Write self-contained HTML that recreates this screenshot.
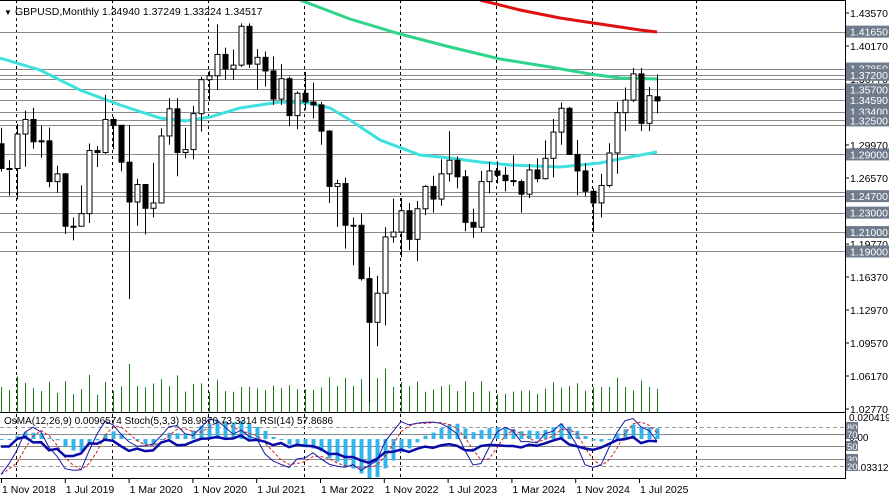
<!DOCTYPE html>
<html><head><meta charset="utf-8"><style>
html,body{margin:0;padding:0;background:#fff;}
svg{display:block;font-family:"Liberation Sans","DejaVu Sans",sans-serif;}
</style></head><body>
<svg id="s" width="889" height="499" xmlns="http://www.w3.org/2000/svg"></svg>
<script>
const D=[
[1.3010,1.3175,1.2723,1.2755],[1.2755,1.2840,1.2477,1.2755],
[1.2755,1.3216,1.2438,1.3110],[1.3110,1.3350,1.2773,1.3260],[1.3260,1.3381,1.2960,1.3030],[1.3030,1.3196,1.2866,1.3040],[1.3040,1.3177,1.2560,1.2620],[1.2620,1.2783,1.2506,1.2700],[1.2700,1.2708,1.2080,1.2160],[1.2160,1.2250,1.2015,1.2160],[1.2160,1.2582,1.2190,1.2290],[1.2290,1.3013,1.2193,1.2940],[1.2940,1.2985,1.2770,1.2920],[1.2920,1.3514,1.2905,1.3260],
[1.3260,1.3285,1.2953,1.3200],[1.3200,1.3200,1.2725,1.2820],[1.2820,1.3200,1.1410,1.2410],[1.2410,1.2648,1.2165,1.2590],[1.2590,1.2520,1.2075,1.2345],[1.2345,1.2813,1.2253,1.2400],[1.2400,1.3170,1.2480,1.3090],[1.3090,1.3480,1.3000,1.3370],[1.3370,1.3480,1.2675,1.2920],[1.2920,1.3175,1.2860,1.2950],[1.2950,1.3400,1.2850,1.3320],[1.3320,1.3700,1.3135,1.3670],
[1.3670,1.3760,1.3450,1.3710],[1.3710,1.4240,1.3565,1.3930],[1.3930,1.4000,1.3670,1.3780],[1.3780,1.3980,1.3670,1.3820],[1.3820,1.4250,1.3800,1.4220],[1.4220,1.4250,1.3790,1.3830],[1.3830,1.3985,1.3570,1.3900],[1.3900,1.3960,1.3600,1.3760],[1.3760,1.3910,1.3410,1.3470],[1.3470,1.3830,1.3410,1.3680],[1.3680,1.3700,1.3190,1.3300],[1.3300,1.3550,1.3160,1.3530],
[1.3530,1.3750,1.3360,1.3440],[1.3440,1.3640,1.3270,1.3410],[1.3410,1.3440,1.3000,1.3140],[1.3140,1.3150,1.2400,1.2570],[1.2570,1.2640,1.2155,1.2600],[1.2600,1.2660,1.1930,1.2170],[1.2170,1.2250,1.1760,1.2170],[1.2170,1.2290,1.1600,1.1620],[1.1620,1.1740,1.0350,1.1170],[1.1170,1.1650,1.0925,1.1470],[1.1470,1.2150,1.1140,1.2050],[1.2050,1.2445,1.1990,1.2100],
[1.2100,1.2450,1.1840,1.2320],[1.2320,1.2400,1.1915,1.2025],[1.2025,1.2420,1.1800,1.2340],[1.2340,1.2585,1.2275,1.2570],[1.2570,1.2680,1.2300,1.2440],[1.2440,1.2850,1.2370,1.2700],[1.2700,1.3140,1.2620,1.2840],[1.2840,1.2880,1.2550,1.2670],[1.2670,1.2740,1.2110,1.2200],[1.2200,1.2340,1.2040,1.2150],[1.2150,1.2730,1.2100,1.2620],[1.2620,1.2825,1.2500,1.2730],
[1.2730,1.2830,1.2600,1.2685],[1.2685,1.2770,1.2520,1.2630],[1.2630,1.2890,1.2575,1.2620],[1.2620,1.2640,1.2300,1.2490],[1.2490,1.2800,1.2450,1.2740],[1.2740,1.2860,1.2615,1.2650],[1.2650,1.3045,1.2640,1.2860],[1.2860,1.3265,1.2665,1.3130],[1.3130,1.3435,1.3000,1.3375],[1.3375,1.3390,1.2900,1.2900],[1.2900,1.3050,1.2480,1.2730],[1.2730,1.2810,1.2470,1.2520],
[1.2520,1.2550,1.2100,1.2400],[1.2400,1.2700,1.2250,1.2580],[1.2580,1.3015,1.2560,1.2915],[1.2915,1.3440,1.2700,1.3330],[1.3330,1.3590,1.3140,1.3460],[1.3460,1.3790,1.3440,1.3730],[1.3730,1.3790,1.3140,1.3220],[1.3220,1.3595,1.3140,1.3505],[1.3494,1.37249,1.33224,1.34517]];
const N=D.length;
const X=i=>657-(N-1-i)*8;
const Y=p=>13+(1.4357-p)*970.6;
let s='';
// clip
s+='<defs><clipPath id="c"><rect x="0" y="0" width="845" height="412"/></clipPath><clipPath id="c2"><rect x="0" y="413" width="845" height="65"/></clipPath></defs>';
// vertical dashed grid
[16,112,208,304,400,496,592,696].forEach(x=>{s+=`<line x1="${x+.5}" y1="0" x2="${x+.5}" y2="478" stroke="#000" stroke-dasharray="3,3"/>`;});
// horizontal levels
const lv=[1.4165,1.3785,1.3720,1.3680,1.3570,1.3459,1.3462,1.3340,1.3250,1.3200,1.2900,1.2510,1.2470,1.2300,1.2100,1.1900];
lv.forEach(p=>{s+=`<line x1="0" x2="845" y1="${Math.round(Y(p))+.5}" y2="${Math.round(Y(p))+.5}" stroke="#8a8a8a"/>`;});
s+='<g clip-path="url(#c)">';
// volume
D.forEach((d,i)=>{let h=Math.min(48,10+(d[1]-d[2])*330);s+=`<line x1="${X(i)+.5}" x2="${X(i)+.5}" y1="412" y2="${412-h}" stroke="#1b7a1b"/>`;});
// MAs
const pl=(pts,c,w)=>`<polyline fill="none" stroke="${c}" stroke-width="${w}" points="${pts.map(p=>p.join(',')).join(' ')}"/>`;
s+=pl([[480,0],[520,10],[560,18],[600,24],[640,30],[657,32]],'#e01010',3);
s+=pl([[300,0],[350,19],[400,34],[450,47],[500,59],[550,67],[590,74],[620,78],[657,79]],'#2ed48a',3);
s+=pl([[0,58],[40,70],[80,90],[120,105],[160,118],[185,121],[210,117],[240,108],[280,102],[310,103],[330,108],[350,120],[380,140],[420,155],[450,158],[480,162],[510,165],[560,167],[580,165],[600,163],[630,157],[657,152]],'#3ee0e0',3);
// candles
D.forEach((d,i)=>{const x=X(i);const [o,h,l,c]=d;const t=Y(Math.max(o,c)),b=Y(Math.min(o,c));
s+=`<line x1="${x+.5}" x2="${x+.5}" y1="${Y(h)}" y2="${Y(l)}" stroke="#000"/>`;
const bh=Math.max(1,b-t);
s+=`<rect x="${x-2}" y="${t}" width="5" height="${bh}" fill="${c>=o?'#fff':'#000'}" stroke="#000" stroke-width="1"/>`;});
s+='</g>';
// borders
s+='<line x1="0" x2="845" y1="0.5" y2="0.5" stroke="#000"/>';
s+='<line x1="0" x2="845" y1="412.5" y2="412.5" stroke="#000"/>';
s+='<line x1="0" x2="845" y1="478.5" y2="478.5" stroke="#000"/>';
s+='<line x1="845.5" x2="845.5" y1="0" y2="479" stroke="#000"/>';
// price axis
const ax=[1.4357,1.4017,1.3677,1.2997,1.2657,1.1977,1.1637,1.1297,1.0957,1.0617,1.0277];
ax.forEach(p=>{const y=Y(p);s+=`<line x1="845" x2="849" y1="${y}" y2="${y}" stroke="#000"/><text x="850" y="${y+4}" font-size="10.5" fill="#000">${p.toFixed(5)}</text>`;});
const lab=[[1.4165,'1.41650'],[1.3785,'1.37850'],[1.3720,'1.37200'],[1.3570,'1.35700'],[1.3459,'1.34590'],[1.3340,'1.33400'],[1.3250,'1.32500'],[1.2900,'1.29000'],[1.2470,'1.24700'],[1.2300,'1.23000'],[1.2100,'1.21000'],[1.1900,'1.19000']];
lab.forEach(([p,t])=>{const y=Y(p);s+=`<rect x="846" y="${y-6}" width="43" height="12" fill="#6f7b8b"/><text x="850" y="${y+4}" font-size="10.5" fill="#fff">${t}</text>`;});
// indicator panel
const cl=D.map(d=>d[3]);
function ema(a,n){const k=2/(n+1);let r=[a[0]];for(let i=1;i<a.length;i++)r.push(a[i]*k+r[i-1]*(1-k));return r;}
const e12=ema(cl,12),e26=ema(cl,26);const macd=cl.map((_,i)=>e12[i]-e26[i]);const sig=ema(macd,9);
const os=macd.map((m,i)=>(m-sig[i])*1.6);
// stoch
let K=[];D.forEach((d,i)=>{let hh=-1,ll=9;for(let j=Math.max(0,i-4);j<=i;j++){hh=Math.max(hh,D[j][1]);ll=Math.min(ll,D[j][2]);}K.push(100*(d[3]-ll)/(hh-ll||1));});
const sm=(a,n)=>a.map((_,i)=>{let s=0,c=0;for(let j=Math.max(0,i-n+1);j<=i;j++){s+=a[j];c++;}return s/c;});
const Ks=sm(K,3),Ds=sm(Ks,3);
// RSI
let rs=[50],ag=0.005,al=0.005;for(let i=1;i<N;i++){const ch=cl[i]-cl[i-1];ag=(ag*13+Math.max(ch,0))/14;al=(al*13+Math.max(-ch,0))/14;rs.push(100-100/(1+ag/al));}
const OY=v=>439-v*931, PY=v=>479-v*0.65;
s+='<g clip-path="url(#c2)">';
[[427,1],[466,1]].forEach(([y])=>{s+=`<line x1="0" x2="845" y1="${y+.5}" y2="${y+.5}" stroke="#999" stroke-dasharray="4,3"/>`;});
[434,446,459].forEach(y=>{s+=`<line x1="0" x2="845" y1="${y+.5}" y2="${y+.5}" stroke="#8a8a8a"/>`;});
os.forEach((v,i)=>{const y0=439,y1=OY(v);s+=`<rect x="${X(i)-1.5}" y="${Math.min(y0,y1)}" width="4" height="${Math.max(1,Math.abs(y1-y0))}" fill="#35b4ec"/>`;});
const line=(a,f,c,w,da)=>`<polyline fill="none" stroke="${c}" stroke-width="${w}" ${da?'stroke-dasharray="'+da+'"':''} points="${a.map((v,i)=>X(i)+','+f(v).toFixed(1)).join(' ')}"/>`;
s+=line(Ds,PY,'#d02020',1,'3,2');
s+=line(Ks,PY,'#1a1aa8',1);
s+=line(rs,PY,'#0a0aa8',2.5);
s+='</g>';
s+='<text x="4" y="424" font-size="10" fill="#000">OsMA(12,26,9) 0.0096574  Stoch(5,3,3) 58.9870 73.3314  RSI(14) 57.8686</text>';
[[421,'0.0204197'],[441,'0.00'],[471,'-0.033122']].forEach(([y,t])=>{s+=`<text x="849" y="${y}" font-size="10" fill="#000">${t}</text>`;});
[[427,'80'],[434,'70'],[446,'50'],[459,'30'],[466,'20']].forEach(([y,t])=>{s+=`<rect x="846" y="${y-5}" width="12" height="10" fill="#6f7b8b"/><text x="847" y="${y+4}" font-size="9.5" fill="#fff">${t}</text>`;});
// title
s+='<text x="4" y="15" font-size="8" fill="#000">▼</text><text x="15" y="15" font-size="10.5" fill="#000">GBPUSD,Monthly  1.34940 1.37249 1.33224 1.34517</text>';
// time axis
const tl=['1 Nov 2018','1 Jul 2019','1 Mar 2020','1 Nov 2020','1 Jul 2021','1 Mar 2022','1 Nov 2022','1 Jul 2023','1 Mar 2024','1 Nov 2024','1 Jul 2025'];
tl.forEach((t,i)=>{const x=1+i*63.8;s+=`<line x1="${x+.5}" x2="${x+.5}" y1="479" y2="483" stroke="#000"/><text x="${x+1}" y="493" font-size="10.5" fill="#000">${t}</text>`;});
document.getElementById('s').innerHTML=s;
</script>
</body></html>
